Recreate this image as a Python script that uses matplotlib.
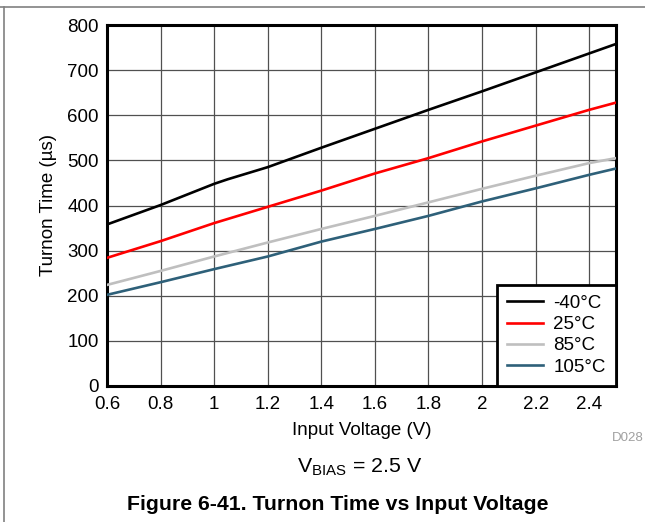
import matplotlib
matplotlib.use("Agg")
import matplotlib.pyplot as plt
from matplotlib.lines import Line2D

plt.rcParams['font.family'] = ['Liberation Sans', 'DejaVu Sans']
plt.rcParams['mathtext.fontset'] = 'custom'
plt.rcParams['mathtext.rm'] = 'Liberation Sans'

# Data
v_black = [0.6, 0.8, 1.0, 1.05, 1.2, 1.4, 1.6, 1.8, 2.0, 2.2, 2.4, 2.5]
t_m40 = [358, 401, 448, 458, 485, 528, 570, 612, 653, 695, 737, 758]
v_red = [0.6, 0.8, 1.0, 1.05, 1.2, 1.4, 1.6, 1.8, 2.0, 2.2, 2.4, 2.5]
t_25 = [284, 321, 361, 370, 397, 433, 471, 505, 542, 577, 612, 628]
v_other = [0.6, 0.8, 1.0, 1.2, 1.4, 1.6, 1.8, 2.0, 2.2, 2.4, 2.5]
t_85 = [224, 255, 287, 318, 348, 377, 407, 437, 466, 494, 505]
t_105 = [202, 230, 259, 287, 320, 348, 377, 409, 438, 468, 482]

labels = ['-40°C', '25°C', '85°C', '105°C']
colors = ['#000000', '#ff0000', '#bfbfbf', '#2e6079']

xticks = [0.6, 0.8, 1.0, 1.2, 1.4, 1.6, 1.8, 2.0, 2.2, 2.4]
xticklabels = ['0.6', '0.8', '1', '1.2', '1.4', '1.6', '1.8', '2', '2.2', '2.4']
yticks = [0, 100, 200, 300, 400, 500, 600, 700, 800]

fig = plt.figure(figsize=(6.45, 5.22), dpi=100)
ax = fig.add_axes([107/645, 1-386/522, (616-107)/645, (386-25)/522])

series = [(v_black, t_m40), (v_red, t_25), (v_other, t_85), (v_other, t_105)]
for (xs, ys), lab, c in zip(series, labels, colors):
    ax.plot(xs, ys, color=c, lw=1.9, label=lab, zorder=3)

ax.set_xlim(0.6, 2.5)
ax.set_ylim(0, 800)
ax.set_xticks(xticks)
ax.set_xticklabels(xticklabels)
ax.set_yticks(yticks)
ax.grid(True, color='#505050', lw=0.9, zorder=1)
ax.tick_params(axis='both', length=0, labelsize=13.5)
ax.tick_params(axis='x', pad=7)
ax.tick_params(axis='y', pad=6)
for s in ax.spines.values():
    s.set_linewidth(2.2)
    s.set_color('black')

ax.set_xlabel('Input Voltage (V)', fontsize=13.5, labelpad=7)
ax.set_ylabel('Turnon Time (µs)', fontsize=13.5, labelpad=7)

leg = ax.legend(loc='lower right', borderaxespad=0, fancybox=False, fontsize=13.5,
                handlelength=1.9, handletextpad=0.55, labelspacing=0.22,
                borderpad=0.55, framealpha=1)
leg.get_frame().set_edgecolor('black')
leg.get_frame().set_linewidth(2.0)

fig.text(628/645, 1-438/522, 'D028', color='#a0a0a0', fontsize=9.5, ha='center', va='center')
fig.text(360/645, 1-467/522, r'V$_{\mathregular{BIAS}}$ = 2.5 V', fontsize=15.4, ha='center', va='center')
fig.text(338/645, 1-505/522, 'Figure 6-41. Turnon Time vs Input Voltage', fontsize=15.3,
         fontweight='bold', ha='center', va='center')

# page border lines
fig.add_artist(Line2D([0, 1], [1-7/522, 1-7/522], color='#808080', lw=1.2, transform=fig.transFigure))
fig.add_artist(Line2D([4/645, 4/645], [0, 1-7/522], color='#808080', lw=1.2, transform=fig.transFigure))

fig.savefig('out.png', dpi=100)
